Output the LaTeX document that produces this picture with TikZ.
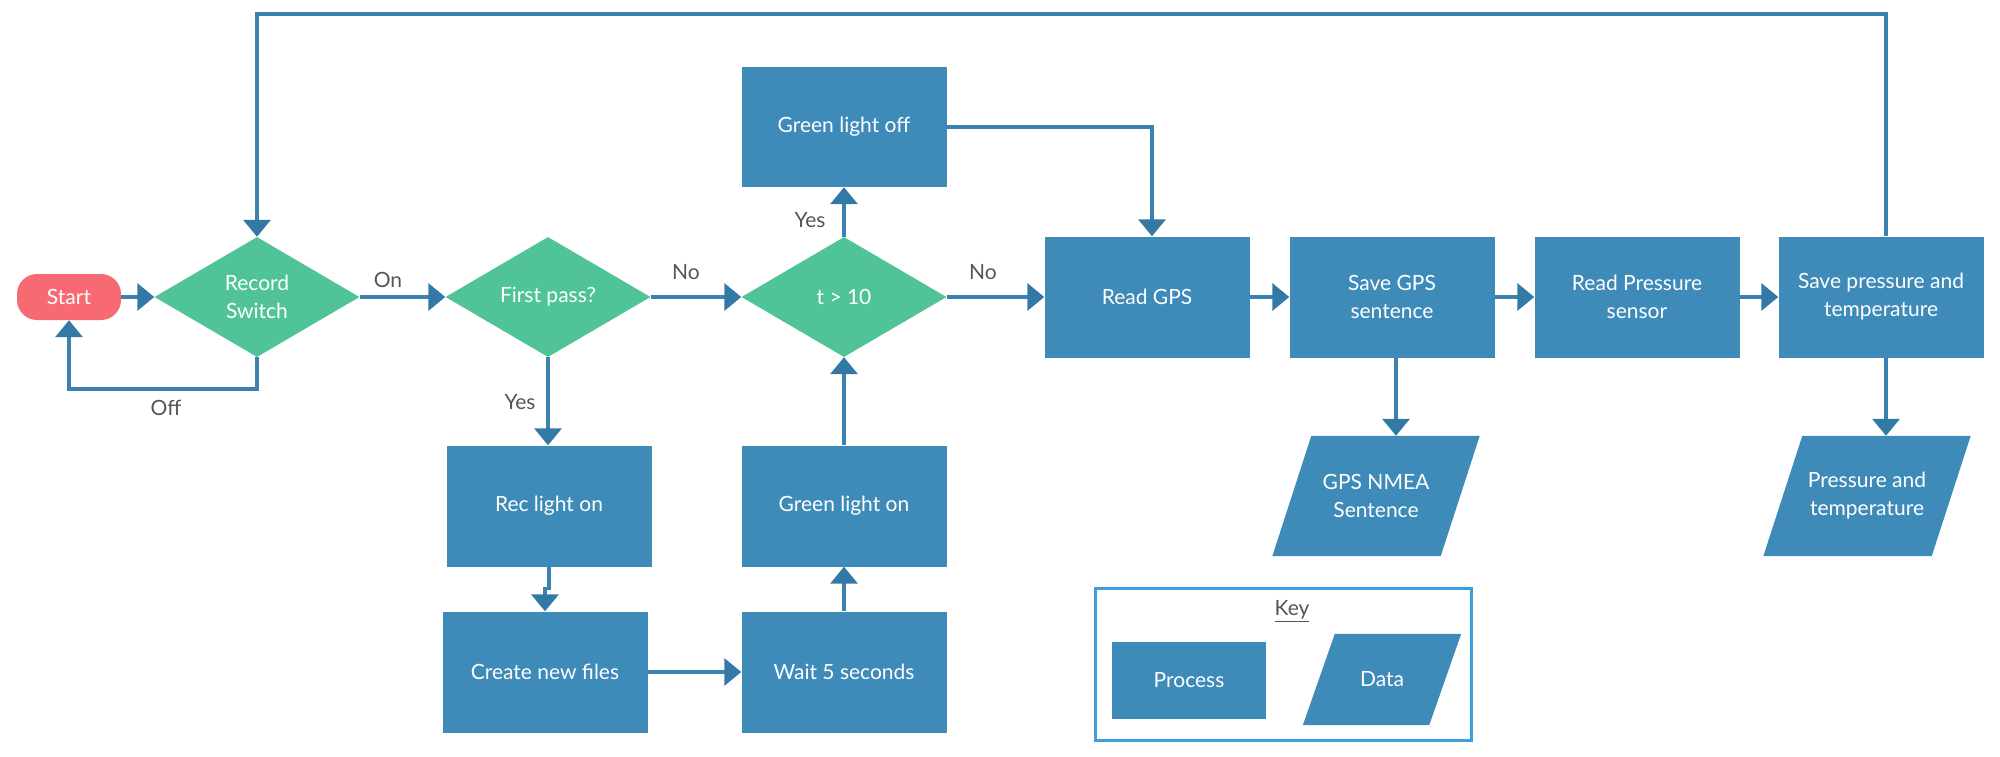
\documentclass[tikz,border=0pt]{standalone}
\usepackage{fontspec}
\setmainfont{Lato}
\usetikzlibrary{shapes.geometric,arrows.meta,backgrounds}
\definecolor{boxblue}{HTML}{3E8AB9}
\definecolor{lineblue}{HTML}{3C82B0}
\definecolor{tipblue}{HTML}{3379A6}
\definecolor{dgreen}{HTML}{50C497}
\definecolor{startred}{HTML}{F76A72}
\definecolor{keyblue}{HTML}{3C9EDD}
\definecolor{lblgray}{HTML}{555555}
\begin{document}
\begin{tikzpicture}[x=1pt,y=-1pt,
  every node/.style={font=\fontsize{21}{28}\selectfont},
  proc/.style={rectangle, fill=boxblue, text=white, minimum width=205pt, minimum height=121pt, inner sep=0pt, align=center},
  dec/.style={diamond, fill=dgreen, text=white, minimum width=205pt, minimum height=120pt, inner sep=0pt, align=center},
  datanode/.style={rectangle, text=white, minimum width=168pt, minimum height=120pt, inner sep=0pt, align=center},
  lbl/.style={text=lblgray, inner sep=0pt},
  conn/.style={draw=lineblue, line width=3.5pt, -{Triangle[length=17pt,width=27pt,fill=tipblue,color=tipblue]}},
]
\useasboundingbox (0,0) rectangle (2000,756);
\coordinate (topy) at (0,14);

% nodes
\node[rectangle, rounded corners=20pt, fill=startred, text=white, minimum width=104pt, minimum height=46pt, inner sep=0pt] (start) at (69,297) {Start};
\node[dec] (rec) at (257,297) {Record\\Switch};
\node[dec] (first) at (548,297) {First pass?};
\node[dec] (tgt) at (844,297) {t > 10};
\node[proc, minimum height=120pt] (gloff) at (844,127) {Green light off};
\node[proc] (readgps) at (1147,297) {Read GPS};
\node[proc] (savegps) at (1392,297) {Save GPS\\sentence};
\node[proc] (readp) at (1637,297) {Read Pressure\\sensor};
\node[proc] (savep) at (1881,297) {Save pressure and\\temperature};
\node[proc] (reclight) at (549,506) {Rec light on};
\node[proc] (glon) at (844,506) {Green light on};
\node[proc] (create) at (545,672) {Create new files};
\node[proc] (wait) at (844,672) {Wait 5 seconds};
\node[datanode] (gpsdata) at (1376,496) {GPS NMEA\\Sentence};
\node[datanode] (pdata) at (1867,496) {Pressure and\\temperature};

% key
\node[draw=keyblue, line width=3pt, minimum width=376pt, minimum height=152pt, inner sep=0pt] (key) at (1283.5,664) {};
\node[lbl] (keylbl) at (1292,611) {\underline{Key}};
\node[proc, minimum width=154pt, minimum height=77pt] (kproc) at (1189,680.5) {Process};
\node[datanode, minimum width=126pt, minimum height=91pt] (kdata) at (1382,679.5) {Data};

\begin{scope}[on background layer]
\fill[boxblue] ([xshift=19.5pt]gpsdata.north west) -- ([xshift=19.5pt]gpsdata.north east) -- ([xshift=-19.5pt]gpsdata.south east) -- ([xshift=-19.5pt]gpsdata.south west) -- cycle;
\fill[boxblue] ([xshift=19.5pt]pdata.north west) -- ([xshift=19.5pt]pdata.north east) -- ([xshift=-19.5pt]pdata.south east) -- ([xshift=-19.5pt]pdata.south west) -- cycle;
\fill[boxblue] ([xshift=16pt]kdata.north west) -- ([xshift=16pt]kdata.north east) -- ([xshift=-16pt]kdata.south east) -- ([xshift=-16pt]kdata.south west) -- cycle;
\end{scope}

% connectors
\draw[conn] (start.east) -- (rec.west);
\draw[conn] (rec.east) -- (first.west);
\draw[conn] (first.east) -- (tgt.west);
\draw[conn] (tgt.east) -- (readgps.west);
\draw[conn] (readgps.east) -- (savegps.west);
\draw[conn] (savegps.east) -- (readp.west);
\draw[conn] (readp.east) -- (savep.west);
\draw[conn] (rec.south) -- ++(0,32) -| (start.south);
\draw[conn] (first.south) -- (first.south |- reclight.north);
\draw[conn] (reclight.south) -- ++(0,22) -| (create.north);
\draw[conn] (create.east) -- (create.east -| wait.west);
\draw[conn] (wait.north) -- (glon.south);
\draw[conn] (glon.north) -- (tgt.south);
\draw[conn] (tgt.north) -- (gloff.south);
\draw[conn] (gloff.east) -| ([xshift=5pt]readgps.north);
\draw[conn] ([xshift=5pt]savep.north) -- ([xshift=5pt]savep.north |- topy) -| (rec.north);
\draw[conn] ([xshift=4pt]savegps.south) -- ([xshift=4pt]savegps.south |- gpsdata.north);
\draw[conn] ([xshift=5pt]savep.south) -- ([xshift=5pt]savep.south |- pdata.north);

% labels
\node[lbl] (lon) at (388,280) {On};
\node[lbl] (lno1) at (686,272) {No};
\node[lbl] (lno2) at (983,272) {No};
\node[lbl] (lyes1) at (810,220) {Yes};
\node[lbl] (lyes2) at (520,402) {Yes};
\node[lbl] (loff) at (166,408) {Off};
\end{tikzpicture}
\end{document}
